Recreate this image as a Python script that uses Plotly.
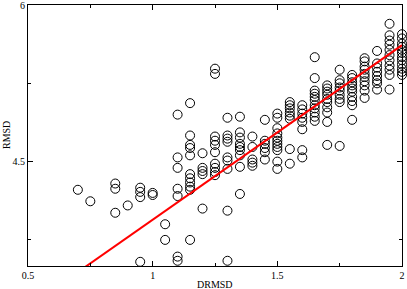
import plotly.graph_objects as go

# DRMSD column values and RMSD values per column
drmsd_cols = [0.70, 0.75, 0.85, 0.90, 0.95, 1.00, 1.05, 1.10, 1.15, 1.20, 1.25, 1.30, 1.35,
              1.40, 1.45, 1.50, 1.55, 1.60, 1.65, 1.70, 1.75, 1.80, 1.85, 1.90, 1.95, 2.00]
rmsd_cols = [
    [4.23],
    [4.12],
    [4.29, 4.24, 4.01],
    [4.08],
    [4.25, 4.21, 4.16, 3.54],
    [4.20, 4.18],
    [3.90, 3.75],
    [4.95, 4.54, 4.44, 4.24, 4.17, 3.59, 3.55],
    [5.06, 4.75, 4.66, 4.63, 4.56, 4.38, 4.34, 4.30, 4.26, 4.23, 3.75],
    [4.58, 4.44, 4.41, 4.38, 4.05],
    [5.39, 5.34, 4.74, 4.70, 4.66, 4.59, 4.48, 4.44, 4.40, 4.37],
    [4.92, 4.75, 4.72, 4.69, 4.54, 4.51, 4.43, 4.03, 3.55],
    [4.93, 4.78, 4.73, 4.67, 4.64, 4.61, 4.56, 4.45, 4.19],
    [4.74, 4.64, 4.52, 4.49, 4.46],
    [4.90, 4.70, 4.67, 4.63, 4.59, 4.52],
    [4.96, 4.92, 4.82, 4.77, 4.73, 4.70, 4.67, 4.64, 4.61, 4.50, 4.43],
    [5.07, 5.04, 5.01, 4.97, 4.94, 4.91, 4.62, 4.48],
    [5.04, 5.00, 4.96, 4.92, 4.88, 4.81, 4.61, 4.54],
    [5.50, 5.30, 5.18, 5.15, 5.12, 5.09, 5.04, 5.01, 4.97, 4.93, 4.89],
    [5.23, 5.20, 5.17, 5.14, 5.10, 5.07, 5.02, 4.97, 4.88, 4.66],
    [5.38, 5.28, 5.25, 5.21, 5.18, 5.14, 5.10, 5.07, 4.65],
    [5.33, 5.30, 5.26, 5.23, 5.20, 5.17, 5.12, 5.08, 5.04, 4.90],
    [5.49, 5.46, 5.41, 5.38, 5.34, 5.31, 5.27, 5.23, 5.18, 5.11],
    [5.56, 5.44, 5.40, 5.36, 5.32, 5.28, 5.25, 5.19],
    [5.82, 5.71, 5.66, 5.62, 5.57, 5.52, 5.47, 5.42, 5.38, 5.33, 5.19],
    [5.72, 5.68, 5.63, 5.60, 5.57, 5.54, 5.50, 5.47, 5.43, 5.39, 5.36, 5.33],
]

# Regression line parameters
fit_slope = 1.672
fit_intercept = 2.271
fit_x = [0.5, 2.0]

x_vals = []
y_vals = []
for xc, ys in zip(drmsd_cols, rmsd_cols):
    for y in ys:
        x_vals.append(xc)
        y_vals.append(y)

fit_y = [fit_intercept + fit_slope * x for x in fit_x]

font = dict(family="Liberation Serif, Times New Roman, serif", size=10, color="black")

fig = go.Figure()
fig.add_trace(go.Scatter(
    x=x_vals, y=y_vals, mode="markers",
    marker=dict(symbol="circle-open", size=9, color="black", line=dict(width=1, color="black")),
    cliponaxis=False, showlegend=False,
))
fig.add_trace(go.Scatter(
    x=fit_x, y=fit_y, mode="lines",
    line=dict(color="#ff0000", width=2),
    showlegend=False,
))

axis_common = dict(
    showgrid=False, zeroline=False, showline=True, linecolor="black", linewidth=1,
    mirror="allticks", ticks="inside", ticklen=5, tickwidth=1, tickcolor="black",
    tickfont=font, automargin=False, ticklabeloverflow="allow",
)
fig.update_xaxes(
    range=[0.5, 2.0], tick0=0.5, dtick=0.5,
    minor=dict(dtick=0.25, ticks="inside", ticklen=3, tickcolor="black"),
    **axis_common,
)
fig.update_yaxes(
    range=[3.5, 6.0], tick0=4.5, dtick=1.5,
    minor=dict(dtick=0.75, tick0=3.75, ticks="inside", ticklen=3, tickcolor="black"),
    **axis_common,
)
fig.update_layout(
    width=407, height=289,
    margin=dict(l=28, r=5, t=5, b=23),
    plot_bgcolor="white", paper_bgcolor="white",
    font=font,
    hovermode=False,
    annotations=[
        dict(text="DRMSD", xref="paper", yref="paper", x=0.5, y=0, xanchor="center",
             yanchor="top", yshift=-11, showarrow=False, font=font),
        dict(text="RMSD", xref="paper", yref="paper", x=0, y=0.5, xanchor="right",
             yanchor="middle", xshift=-14, textangle=-90, showarrow=False, font=font),
    ],
)
fig.write_html(
    "out.html",
    config={"displayModeBar": False, "staticPlot": True},
    post_script="document.body.style.margin='0px';document.body.style.overflow='hidden';",
)
